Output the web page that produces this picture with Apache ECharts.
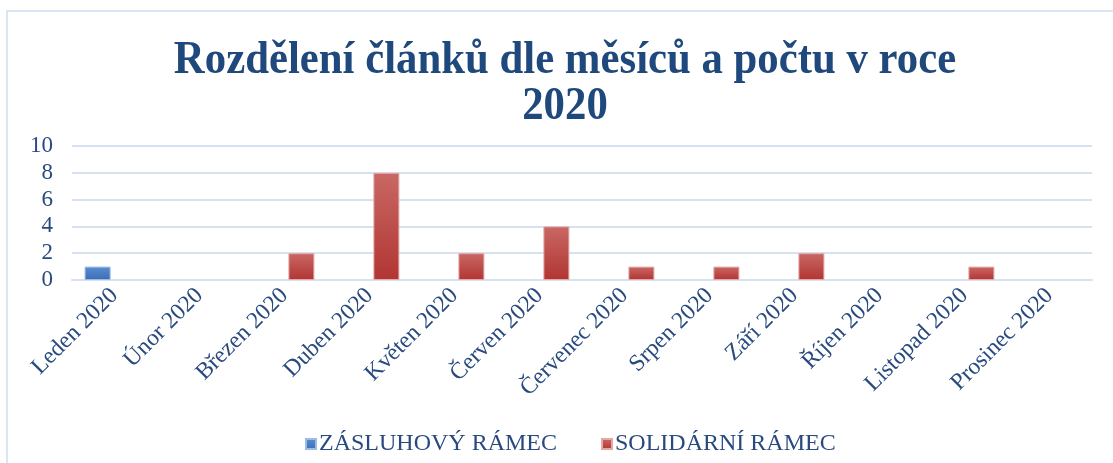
<!DOCTYPE html>
<html>
<head>
<meta charset="utf-8">
<title>Rozdělení článků 2020</title>
<script src="https://cdn.jsdelivr.net/npm/echarts@6/dist/echarts.min.js"></script>
<style>
	html, body { margin: 0; padding: 0; background: #fff; }
	#main { width: 1113px; height: 463px; }
</style>
</head>
<body>
<div id="main"></div>
<script>
	// data
	var mesice = ['Leden 2020', 'Únor 2020', 'Březen 2020', 'Duben 2020', 'Květen 2020', 'Červen 2020',
		'Červenec 2020', 'Srpen 2020', 'Září 2020', 'Říjen 2020', 'Listopad 2020', 'Prosinec 2020'];
	var zasluhovy = [1, 0, 0, 0, 0, 0, 0, 0, 0, 0, 0, 0];
	var solidarni = [0, 0, 2, 8, 2, 4, 1, 1, 2, 0, 1, 0];
	var nazvy = ['ZÁSLUHOVÝ RÁMEC', 'SOLIDÁRNÍ RÁMEC'];

	var font = '"Liberation Serif", "Times New Roman", serif';
	var textColor = '#284a7e';

	function grad(top, bottom) {
		return new echarts.graphic.LinearGradient(0, 0, 0, 1, [
			{ offset: 0, color: top },
			{ offset: 1, color: bottom }
		]);
	}

	// nuly se v originále nekreslí
	function bezNul(arr) {
		return arr.map(function (v) { return v === 0 ? '-' : v; });
	}

	var myChart = echarts.init(document.getElementById('main'));
	var option = {
		backgroundColor: '#fff',
		animation: false,
		graphic: [
			// ramecek grafu
			{
				type: 'rect', silent: true, z: -10,
				shape: { x: 7, y: 11, width: 1200, height: 520 },
				style: { fill: 'none', stroke: '#dbe5f4', lineWidth: 2 }
			},
			// nadpis (trochu zúžený jako v originále)
			{
				type: 'text', x: 565, y: 38, scaleX: 0.93,
				style: {
					text: 'Rozdělení článků dle měsíců a počtu v roce\n2020',
					textAlign: 'center', textVerticalAlign: 'top',
					font: 'bold 46px ' + font, lineHeight: 46,
					fill: '#1f497d'
				}
			}
		],
		grid: { left: 72, right: 21, top: 146, bottom: 183 },
		legend: {
			data: nazvy,
			left: 300, top: 427,
			itemWidth: 10, itemHeight: 10, itemGap: 44,
			icon: 'rect',
			textStyle: { fontFamily: font, fontSize: 24, color: textColor, padding: [0, 0, 0, -2] }
		},
		xAxis: {
			type: 'category',
			data: mesice,
			axisLine: { lineStyle: { color: '#d6e1f2', width: 2 } },
			axisTick: { show: false },
			axisLabel: { rotate: 45, margin: 12, interval: 0, fontFamily: font, fontSize: 23.5, color: textColor }
		},
		yAxis: {
			type: 'value',
			min: 0, max: 10, interval: 2,
			axisLine: { show: false },
			axisTick: { show: false },
			splitLine: { lineStyle: { color: '#d6e1f2', width: 2 } },
			axisLabel: { margin: 19, fontFamily: font, fontSize: 23, color: textColor }
		},
		series: [
			{
				name: nazvy[0], type: 'bar', data: bezNul(zasluhovy),
				barWidth: 26, barGap: '30%',
				itemStyle: { color: grad('#5a8fd4', '#3a6cb4'), borderColor: '#9dbbe6', borderWidth: 1 }
			},
			{
				name: nazvy[1], type: 'bar', data: bezNul(solidarni),
				barWidth: 26,
				itemStyle: { color: grad('#c96864', '#b13532'), borderColor: '#e3a9a7', borderWidth: 1 }
			}
		]
	};
	myChart.setOption(option);
</script>
</body>
</html>
